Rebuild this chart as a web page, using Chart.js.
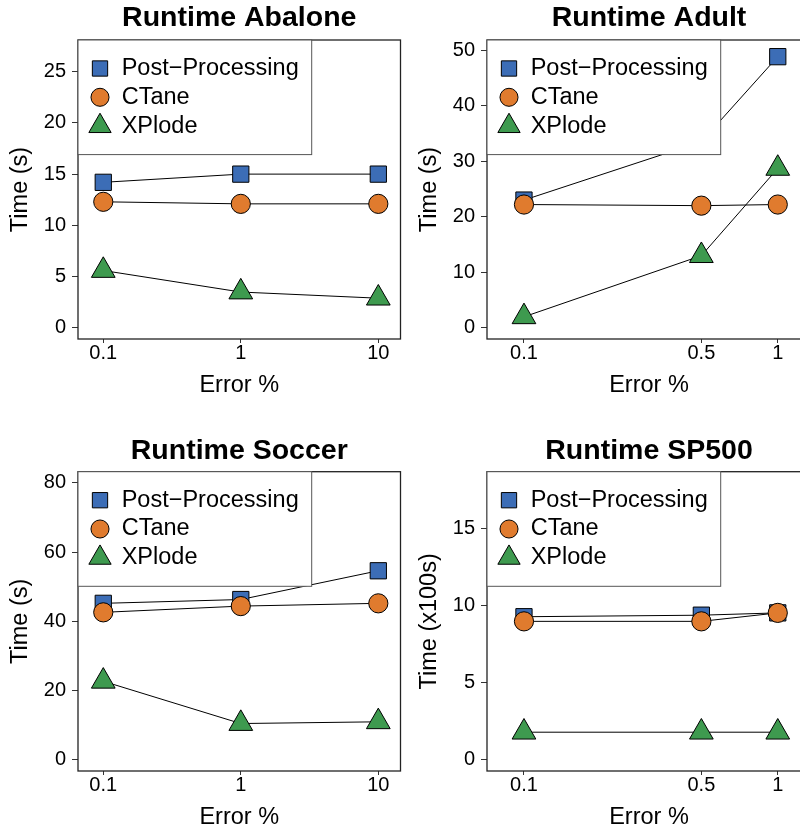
<!DOCTYPE html>
<html>
<head>
<meta charset="utf-8">
<script src="https://cdn.jsdelivr.net/npm/chart.js@4.4.1/dist/chart.umd.min.js"></script>
<style>
  html, body { margin: 0; padding: 0; background: #fff; }
  body { width: 800px; height: 833px; overflow: hidden; position: relative; }
  canvas { position: absolute; }
</style>
</head>
<body>
<canvas id="abaloneCanvas" width="402" height="416" style="left:0;top:0"></canvas>
<canvas id="adultCanvas" width="412" height="416" style="left:400px;top:0"></canvas>
<canvas id="soccerCanvas" width="402" height="417" style="left:0;top:416px"></canvas>
<canvas id="sp500Canvas" width="412" height="417" style="left:400px;top:416px"></canvas>
<script>
// Error % on the x axis (log scale)
var errorWide = [0.1, 1, 10];
var errorNarrow = [0.1, 0.5, 1];

var seriesNames = ["Post\u2212Processing", "CTane", "XPlode"];

// Abalone, seconds
var abalonePost = [14.2, 15.0, 15.0];
var abaloneCtane = [12.3, 12.1, 12.1];
var abaloneXplode = [5.6, 3.5, 2.9];
var abaloneTicks = [0, 5, 10, 15, 20, 25];

// Adult, seconds
var adultPost = [23.0, 33.5, 48.8];
var adultCtane = [22.2, 22.0, 22.2];
var adultXplode = [2.0, 13.0, 28.7];
var adultTicks = [0, 10, 20, 30, 40, 50];

// Soccer, seconds
var soccerPost = [45.2, 46.3, 54.6];
var soccerCtane = [42.6, 44.4, 45.2];
var soccerXplode = [22.7, 10.5, 11.0];
var soccerTicks = [0, 20, 40, 60, 80];

// SP500, hundreds of seconds
var sp500Post = [9.3, 9.4, 9.55];
var sp500Ctane = [9.0, 9.0, 9.55];
var sp500Xplode = [1.8, 1.8, 1.8];
var sp500Ticks = [0, 5, 10, 15];

Chart.defaults.font.family = "'Liberation Sans', Arial, Helvetica, sans-serif";
Chart.defaults.color = "#000";

// box around the plot region
var plotFrame = {
  id: "plotFrame",
  beforeDatasetsDraw: function(chart) {
    var ctx = chart.ctx;
    var a = chart.chartArea;
    ctx.save();
    ctx.strokeStyle = "#222";
    ctx.lineWidth = 1.3;
    ctx.strokeRect(a.left, a.top, a.right - a.left, a.bottom - a.top);
    ctx.restore();
  }
};

// legend drawn on top of the lines, top-left corner of the plot
var legendBox = {
  id: "legendBox",
  afterDatasetsDraw: function(chart) {
    var ctx = chart.ctx;
    var a = chart.chartArea;
    ctx.save();
    ctx.fillStyle = "#fff";
    ctx.fillRect(a.left, a.top, 233.7, 114.6);
    ctx.strokeStyle = "#555";
    ctx.lineWidth = 1;
    ctx.strokeRect(a.left, a.top, 233.7, 114.6);
    ctx.font = "23.5px 'Liberation Sans', Arial, Helvetica, sans-serif";
    ctx.textBaseline = "middle";
    ctx.textAlign = "left";
    chart.data.datasets.forEach(function(ds, i) {
      var y = a.top + 28.5 + i * 28.8;
      ctx.fillStyle = ds.pointBackgroundColor;
      ctx.strokeStyle = "#000";
      ctx.lineWidth = 1;
      Chart.helpers.drawPoint(ctx, {
        pointStyle: ds.pointStyle,
        radius: ds.pointRadius * 0.94,
        rotation: 0,
        borderWidth: 1
      }, a.left + 22, y);
      ctx.fillStyle = "#000";
      ctx.fillText(ds.label, a.left + 43.7, y);
    });
    ctx.restore();
  }
};

function series(label, errors, values, color, style, radius, order) {
  return {
    label: label,
    data: errors.map(function(e, i) { return {x: e, y: values[i]}; }),
    borderColor: "#000",
    borderWidth: 1,
    pointBackgroundColor: color,
    pointBorderColor: "#000",
    pointBorderWidth: 1,
    pointStyle: style,
    pointRadius: radius,
    pointHoverRadius: radius,
    tension: 0,
    fill: false,
    order: order
  };
}

function makeRuntime(id, o) {
  var dataGraph = {
    type: "line",
    data: {
      datasets: [
        series(seriesNames[0], o.errors, o.post, "#3C6DB6", "rect", 11.5, 3),
        series(seriesNames[1], o.errors, o.ctane, "#E07B2E", "circle", 9.6, 2),
        series(seriesNames[2], o.errors, o.xplode, "#3E9A4F", "triangle", 13.7, 1)
      ]
    },
    options: {
      responsive: false,
      animation: false,
      layout: {
        autoPadding: false,
        padding: { left: 0, right: o.padRight, top: 0, bottom: o.padBottom }
      },
      scales: {
        x: {
          type: "logarithmic",
          min: o.xMin,
          max: o.xMax,
          afterBuildTicks: function(scale) {
            scale.ticks = o.errors.map(function(v) { return {value: v}; });
          },
          afterFit: function(scale) {
            scale.height = 62;
            scale.paddingLeft = 0;
            scale.paddingRight = 0;
          },
          ticks: {
            callback: function(value) { return String(value); },
            font: { size: 20, lineHeight: 1 },
            color: "#000",
            padding: 0,
            autoSkip: false,
            maxRotation: 0
          },
          grid: { drawOnChartArea: false, tickLength: 4, tickColor: "#333" },
          border: { display: false },
          title: {
            display: true,
            text: "Error %",
            font: { size: 23.5 },
            color: "#000",
            padding: { top: 0, bottom: 1.2 }
          }
        },
        y: {
          type: "linear",
          min: o.yMin,
          max: o.yMax,
          afterBuildTicks: function(scale) {
            scale.ticks = o.yTicks.map(function(v) { return {value: v}; });
          },
          afterFit: function(scale) {
            scale.width = o.yWidth;
            scale.paddingTop = 0;
            scale.paddingBottom = 0;
          },
          ticks: { font: { size: 20 }, color: "#000", padding: 6 },
          grid: { drawOnChartArea: false, tickLength: 6, tickColor: "#333" },
          border: { display: false },
          title: {
            display: true,
            text: o.yTitle,
            font: { size: 23.5 },
            color: "#000",
            padding: { top: o.yTitlePad, bottom: 0 }
          }
        }
      },
      plugins: {
        legend: { display: false },
        tooltip: { enabled: false },
        title: {
          display: true,
          text: o.title,
          color: "#000",
          fullSize: false,
          font: { size: 28.5, weight: "bold" },
          padding: { top: o.titleTop, bottom: o.titleBottom }
        }
      }
    },
    plugins: [plotFrame, legendBox]
  };
  return new Chart(document.getElementById(id), dataGraph);
}

makeRuntime("abaloneCanvas", {
  title: "Runtime Abalone", yTitle: "Time (s)",
  errors: errorWide, post: abalonePost, ctane: abaloneCtane, xplode: abaloneXplode,
  yTicks: abaloneTicks, yMin: -1.08, yMax: 28.08, xMin: 0.0655, xMax: 14.5,
  yWidth: 78, yTitlePad: 6.9, padRight: 1.5, padBottom: 15, titleTop: 1.5, titleBottom: 4.3
});

makeRuntime("adultCanvas", {
  title: "Runtime Adult", yTitle: "Time (s)",
  errors: errorNarrow, post: adultPost, ctane: adultCtane, xplode: adultXplode,
  yTicks: adultTicks, yMin: -1.99, yMax: 51.8, xMin: 0.0715, xMax: 1.352,
  yWidth: 87, yTitlePad: 15.6, padRight: 1, padBottom: 15, titleTop: 1.5, titleBottom: 4.3
});

makeRuntime("soccerCanvas", {
  title: "Runtime Soccer", yTitle: "Time (s)",
  errors: errorWide, post: soccerPost, ctane: soccerCtane, xplode: soccerXplode,
  yTicks: soccerTicks, yMin: -3.2, yMax: 83.2, xMin: 0.0655, xMax: 14.5,
  yWidth: 78, yTitlePad: 6.9, padRight: 1.5, padBottom: 0, titleTop: 18.2, titleBottom: 3.3
});

makeRuntime("sp500Canvas", {
  title: "Runtime SP500", yTitle: "Time (x100s)",
  errors: errorNarrow, post: sp500Post, ctane: sp500Ctane, xplode: sp500Xplode,
  yTicks: sp500Ticks, yMin: -0.72, yMax: 18.72, xMin: 0.0715, xMax: 1.352,
  yWidth: 87, yTitlePad: 15.6, padRight: 1, padBottom: 0, titleTop: 18.2, titleBottom: 3.3
});
</script>
</body>
</html>
